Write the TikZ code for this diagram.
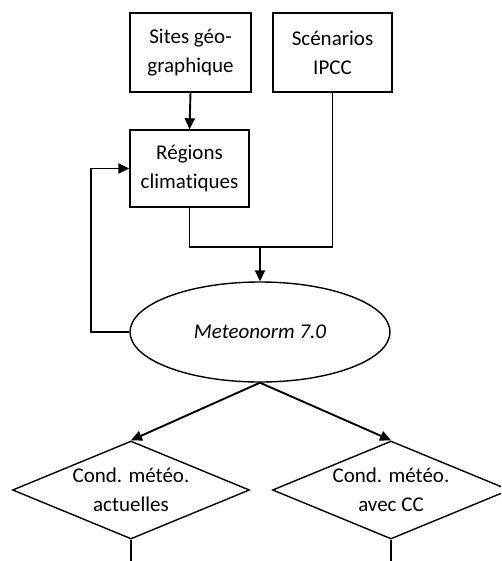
\documentclass[tikz,border=0pt]{standalone}
\usepackage{fontspec}
\setmainfont[Ligatures={NoCommon}]{Carlito}
\usetikzlibrary{shapes.geometric,arrows.meta}
\begin{document}
\begin{tikzpicture}[x=1pt,y=-1pt,
  every node/.style={font=\fontsize{21}{29}\selectfont, align=center, inner sep=0pt},
  boxnode/.style={draw, line width=1.4pt, rectangle},
  ellnode/.style={draw, line width=1.4pt, ellipse, minimum width=260pt, minimum height=100pt},
  dianode/.style={draw, line width=1.4pt, diamond, aspect=2.42, minimum width=237pt, minimum height=98pt},
  conn/.style={line width=1.4pt},
  arr/.style={line width=1.9pt, -{Triangle[length=11pt,width=10pt]}}]
\useasboundingbox (0,0) rectangle (501,561);
\clip (0,0) rectangle (501,561);
\node[boxnode, minimum width=121pt, minimum height=79pt] (b1) at (190.5,52.5) {Sites géo-\\graphique};
\node[boxnode, minimum width=119pt, minimum height=79pt] (b2) at (332.5,52.5) {Scénarios\\IPCC};
\node[boxnode, minimum width=119pt, minimum height=77pt] (b3) at (189.5,168.5) {Régions\\climatiques};
\node[ellnode] (ell) at (260,332) {\itshape Meteonorm 7.0};
\node[dianode] (dl) at (131,490) {Cond. météo.\\actuelles};
\node[dianode] (dr) at (391,490) {Cond. météo.\\avec CC};
\coordinate (m) at (260,247);
\coordinate (fb) at (91,168.5);
\coordinate (bot) at (0,570);
\draw[arr] (b1.south) -- (b3.north);
\draw[conn] (b3.south) |- (b2.south |- m) -- (b2.south);
\draw[arr] (m) -- (ell.north);
\draw[arr] (ell.west) -| (fb) -- (b3.west);
\draw[arr] (ell.south) -- (dl.north);
\draw[arr] (ell.south) -- (dr.north);
\draw[conn] (dl.south) -- (dl.south |- bot);
\draw[conn] (dr.south) -- (dr.south |- bot);
\end{tikzpicture}
\end{document}
